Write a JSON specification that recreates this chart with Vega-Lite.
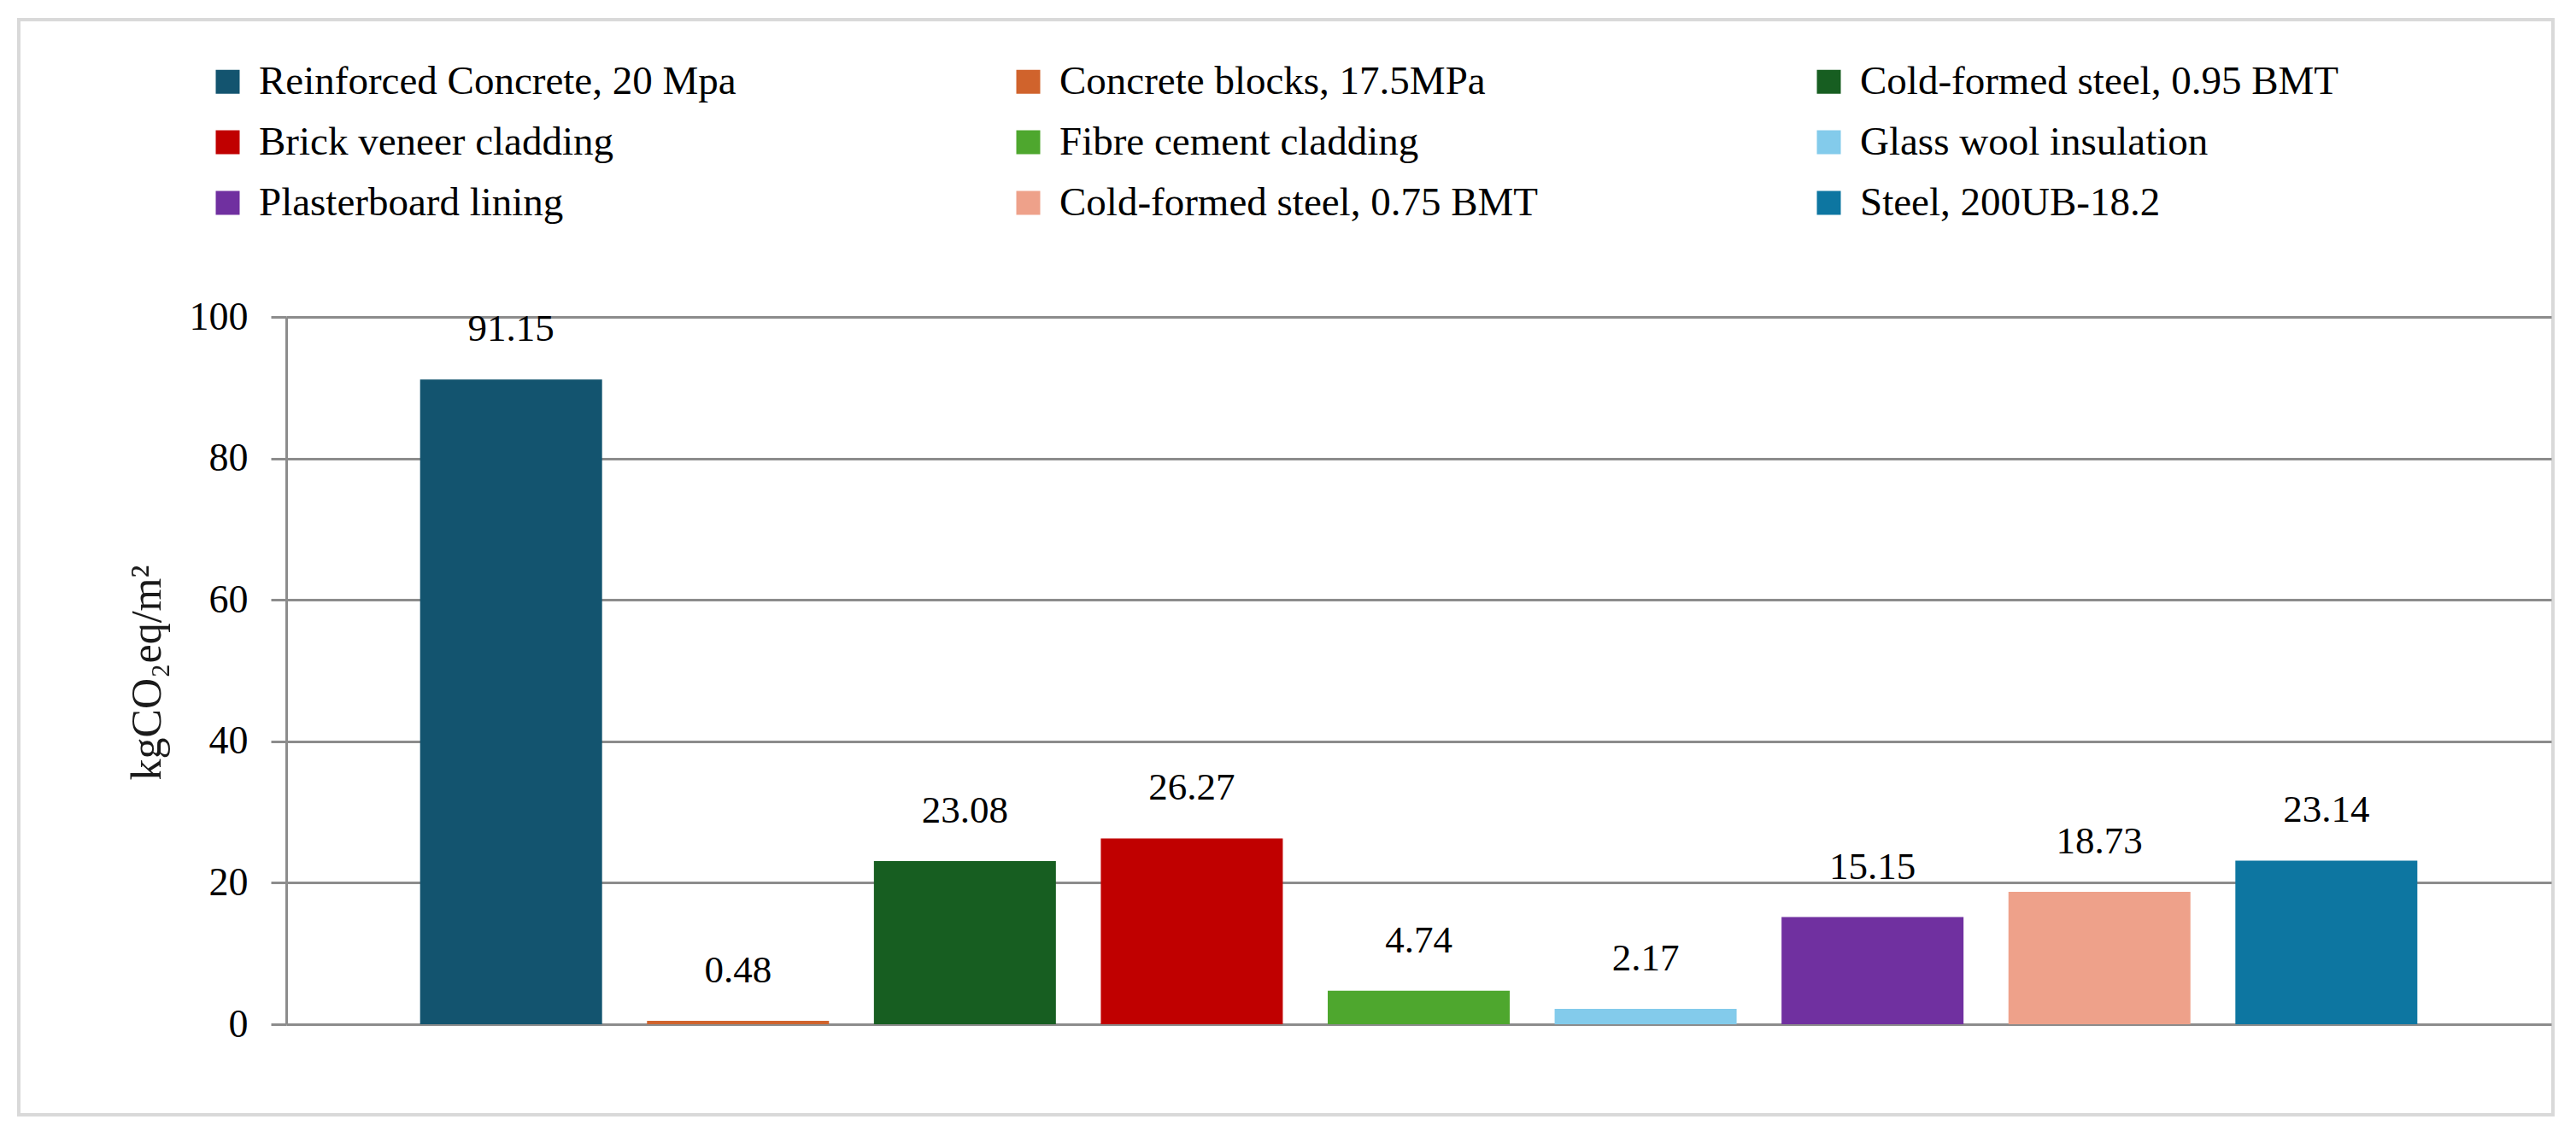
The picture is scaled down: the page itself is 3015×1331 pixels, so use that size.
{
  "$schema": "https://vega.github.io/schema/vega-lite/v6.json",
  "width": 2966,
  "height": 1282,
  "autosize": {"type": "none"},
  "padding": {"left": 22, "top": 23, "right": 27, "bottom": 26},
  "background": "white",
  "config": {
    "view": {"stroke": "#d9d9d9", "strokeWidth": 4},
    "font": "Liberation Serif"
  },
  "data": {
    "values": [
      {"material": "Reinforced Concrete, 20 Mpa", "value": 91.15},
      {"material": "Concrete blocks, 17.5MPa", "value": 0.48},
      {"material": "Cold-formed steel, 0.95 BMT", "value": 23.08},
      {"material": "Brick veneer cladding", "value": 26.27},
      {"material": "Fibre cement cladding", "value": 4.74},
      {"material": "Glass wool insulation", "value": 2.17},
      {"material": "Plasterboard lining", "value": 15.15},
      {"material": "Cold-formed steel, 0.75 BMT", "value": 18.73},
      {"material": "Steel, 200UB-18.2", "value": 23.14}
    ]
  },
  "encoding": {
    "x": {
      "field": "material",
      "type": "nominal",
      "sort": null,
      "axis": null,
      "scale": {"range": [313, 2964], "paddingInner": 0.198, "paddingOuter": 0.59}
    },
    "y": {
      "field": "value",
      "type": "quantitative",
      "scale": {"domain": [0, 100], "range": [1176, 348], "nice": false, "zero": true},
      "axis": {
        "values": [0, 20, 40, 60, 80, 100],
        "offset": -313,
        "grid": true,
        "gridColor": "#8c8c8c",
        "gridWidth": 3,
        "domainColor": "#8c8c8c",
        "domainWidth": 3,
        "tickColor": "#8c8c8c",
        "tickWidth": 3,
        "tickSize": 18,
        "labelFont": "Liberation Serif",
        "labelFontSize": 46,
        "labelColor": "black",
        "labelPadding": 27,
        "title": "kgCO₂eq/m²",
        "titleFont": "Liberation Serif",
        "titleFontSize": 50,
        "titleFontWeight": "normal",
        "titleColor": "#1a1a1a",
        "titleX": -163,
        "titleY": 764,
        "titleBaseline": "middle",
        "titleAngle": -90
      }
    }
  },
  "layer": [
    {
      "mark": {"type": "bar"},
      "encoding": {
        "color": {
          "field": "material",
          "type": "nominal",
          "sort": null,
          "scale": {
            "domain": [
              "Reinforced Concrete, 20 Mpa",
              "Concrete blocks, 17.5MPa",
              "Cold-formed steel, 0.95 BMT",
              "Brick veneer cladding",
              "Fibre cement cladding",
              "Glass wool insulation",
              "Plasterboard lining",
              "Cold-formed steel, 0.75 BMT",
              "Steel, 200UB-18.2"
            ],
            "range": ["#13546F", "#D0632C", "#175E21", "#C00000", "#4EA72E", "#83CBEB", "#7030A0", "#EEA18A", "#0D76A1"]
          },
          "legend": {
            "title": null,
            "orient": "none",
            "direction": "horizontal",
            "legendX": 221,
            "legendY": 49,
            "columns": 3,
            "gridAlign": "all",
            "columnPadding": 316,
            "rowPadding": 23,
            "padding": 0,
            "symbolType": "square",
            "symbolSize": 784,
            "symbolStrokeWidth": 0,
            "labelOffset": 13,
            "labelLimit": 1200,
            "labelFont": "Liberation Serif",
            "labelFontSize": 47,
            "labelColor": "black"
          }
        }
      }
    },
    {
      "mark": {"type": "text", "baseline": "alphabetic", "dy": -45, "font": "Liberation Serif", "fontSize": 45, "color": "black"},
      "encoding": {
        "text": {"field": "value", "type": "quantitative", "format": ".2f"}
      }
    }
  ]
}
